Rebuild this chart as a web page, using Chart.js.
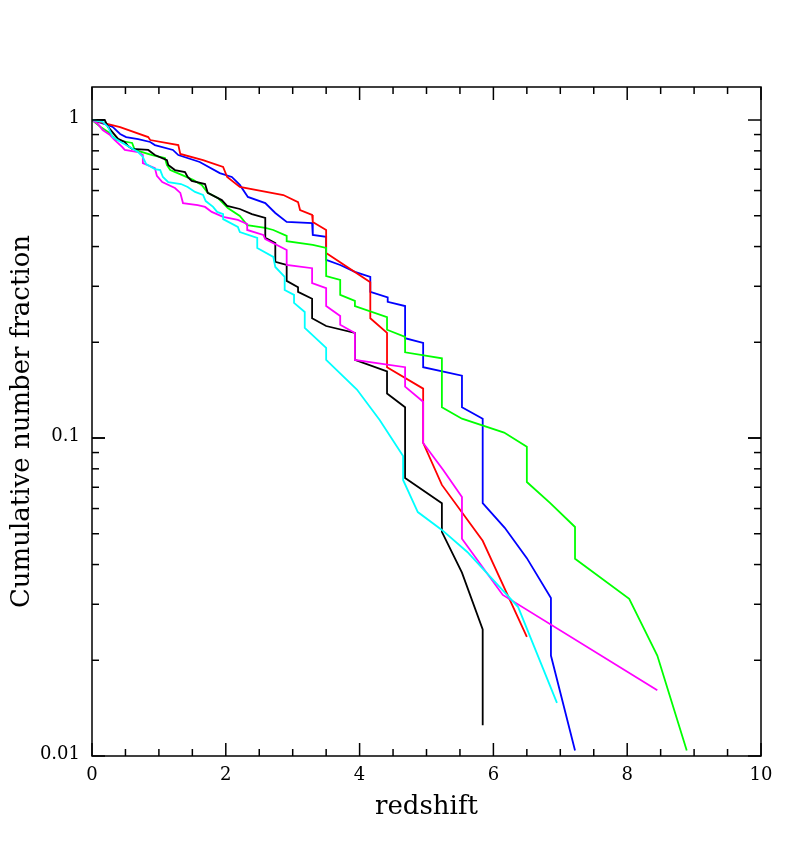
<!DOCTYPE html>
<html lang="en">
<head>
  <meta charset="UTF-8">
  <title>Cumulative number fraction vs redshift</title>
  <script src="https://cdn.jsdelivr.net/npm/chart.js"></script>
  <style>
    body { margin: 0; background: #fff; }
    #wrap { width: 788px; height: 864px; }
  </style>
</head>
<body>
  <div id="wrap"><canvas id="chart" width="788" height="864"></canvas></div>

  <script>
    // redshift (z) and cumulative fraction (f) per sample
    const zBlack = [0, 0.19, 0.24, 0.39, 0.49, 0.54, 0.60, 0.84, 0.94, 1.12, 1.14, 1.24, 1.39, 1.43, 1.49, 1.69, 1.73, 1.94, 2.02, 2.21, 2.39, 2.59, 2.59, 2.74, 2.74, 2.91, 2.91, 3.08, 3.08, 3.29, 3.29, 3.50, 3.93, 3.93, 4.41, 4.41, 4.68, 4.68, 5.23, 5.23, 5.53, 5.84, 5.84];
    const fBlack = [1.0, 1.0, 0.951, 0.872, 0.853, 0.828, 0.811, 0.805, 0.776, 0.748, 0.722, 0.696, 0.686, 0.662, 0.643, 0.629, 0.590, 0.560, 0.537, 0.525, 0.506, 0.492, 0.426, 0.410, 0.358, 0.350, 0.312, 0.298, 0.288, 0.274, 0.238, 0.225, 0.214, 0.176, 0.162, 0.138, 0.125, 0.0749, 0.0624, 0.0507, 0.0377, 0.0250, 0.0125];

    const zRed = [0, 0.42, 0.84, 0.87, 1.29, 1.32, 1.66, 1.96, 2.02, 2.21, 2.86, 3.08, 3.11, 3.29, 3.30, 3.50, 3.50, 4.16, 4.16, 4.41, 4.41, 4.95, 4.95, 5.23, 5.84, 6.50];
    const fRed = [1.0, 0.950, 0.884, 0.865, 0.834, 0.782, 0.748, 0.712, 0.662, 0.616, 0.581, 0.552, 0.521, 0.503, 0.478, 0.451, 0.382, 0.309, 0.238, 0.214, 0.167, 0.143, 0.0965, 0.0712, 0.0475, 0.0237];

    const zBlue = [0, 0.24, 0.31, 0.42, 0.51, 0.69, 0.87, 0.94, 1.21, 1.29, 1.61, 1.91, 2.09, 2.21, 2.33, 2.59, 2.74, 2.91, 3.29, 3.30, 3.50, 3.50, 3.71, 3.93, 4.16, 4.16, 4.42, 4.42, 4.68, 4.68, 4.95, 4.95, 5.53, 5.53, 5.84, 5.84, 6.17, 6.50, 6.86, 6.86, 7.22];
    const fBlue = [1.0, 0.964, 0.951, 0.904, 0.884, 0.871, 0.853, 0.834, 0.805, 0.776, 0.738, 0.681, 0.662, 0.625, 0.573, 0.548, 0.510, 0.478, 0.474, 0.435, 0.429, 0.363, 0.350, 0.333, 0.321, 0.288, 0.277, 0.268, 0.260, 0.206, 0.199, 0.167, 0.157, 0.125, 0.115, 0.0624, 0.0522, 0.0419, 0.0314, 0.0207, 0.0104];

    const zGreen = [0, 0.13, 0.24, 0.37, 0.60, 0.64, 0.90, 1.09, 1.12, 1.17, 1.35, 1.51, 1.64, 1.73, 1.88, 2.03, 2.21, 2.32, 2.59, 2.71, 2.91, 2.91, 3.30, 3.50, 3.50, 3.71, 3.71, 3.93, 3.93, 4.41, 4.41, 4.68, 4.68, 5.23, 5.23, 5.53, 6.16, 6.50, 6.50, 6.85, 7.22, 7.22, 8.03, 8.45, 8.89];
    const fGreen = [1.0, 0.951, 0.917, 0.865, 0.847, 0.805, 0.776, 0.759, 0.722, 0.696, 0.671, 0.648, 0.625, 0.590, 0.569, 0.529, 0.499, 0.467, 0.458, 0.451, 0.432, 0.416, 0.405, 0.396, 0.323, 0.314, 0.282, 0.270, 0.260, 0.240, 0.219, 0.208, 0.186, 0.178, 0.125, 0.115, 0.104, 0.0938, 0.0727, 0.0624, 0.0525, 0.0417, 0.0312, 0.0207, 0.0104];

    const zCyan = [0, 0.16, 0.24, 0.31, 0.43, 0.69, 0.76, 0.81, 0.94, 1.02, 1.06, 1.14, 1.33, 1.43, 1.54, 1.66, 1.70, 1.81, 1.87, 1.96, 1.96, 2.18, 2.21, 2.47, 2.47, 2.71, 2.74, 2.88, 2.88, 3.02, 3.02, 3.18, 3.18, 3.50, 3.50, 3.96, 4.30, 4.65, 4.65, 4.87, 5.23, 5.61, 6.37, 6.95];
    const fCyan = [1.0, 0.986, 0.951, 0.884, 0.853, 0.793, 0.765, 0.727, 0.701, 0.696, 0.662, 0.638, 0.629, 0.616, 0.594, 0.581, 0.556, 0.533, 0.514, 0.506, 0.488, 0.461, 0.444, 0.426, 0.396, 0.371, 0.345, 0.321, 0.292, 0.282, 0.266, 0.249, 0.222, 0.192, 0.176, 0.142, 0.114, 0.0877, 0.0738, 0.0585, 0.0514, 0.0438, 0.0294, 0.0147];

    const zMagenta = [0, 0.09, 0.16, 0.27, 0.34, 0.45, 0.49, 0.69, 0.76, 0.76, 0.94, 0.97, 1.05, 1.24, 1.32, 1.36, 1.58, 1.69, 1.79, 1.96, 2.18, 2.32, 2.32, 2.56, 2.59, 2.91, 2.91, 3.29, 3.29, 3.50, 3.50, 3.71, 3.71, 3.93, 3.93, 4.68, 4.68, 4.95, 4.95, 5.25, 5.53, 5.53, 6.14, 8.45];
    const fMagenta = [1.0, 0.971, 0.930, 0.897, 0.865, 0.823, 0.805, 0.793, 0.776, 0.732, 0.706, 0.667, 0.638, 0.611, 0.590, 0.548, 0.540, 0.533, 0.514, 0.496, 0.485, 0.471, 0.451, 0.435, 0.422, 0.390, 0.350, 0.342, 0.307, 0.296, 0.260, 0.242, 0.227, 0.214, 0.176, 0.167, 0.145, 0.130, 0.0965, 0.0793, 0.0652, 0.0482, 0.0321, 0.0161];

    // axis ticks
    const xTicks = [0, 2, 4, 6, 8, 10];
    const xTickLabels = ['0', '2', '4', '6', '8', '10'];
    const yTicks = [0.01, 0.1, 1];
    const yTickLabels = ['0.01', '0.1', '1'];

    const FONT = '"DejaVu Serif", "Liberation Serif", serif';

    function pts(zs, fs) {
      return zs.map((z, i) => ({ x: z, y: fs[i] }));
    }

    function series(zs, fs, color) {
      return {
        data: pts(zs, fs),
        borderColor: color,
        borderWidth: 1.8,
        pointRadius: 0,
        tension: 0,
        fill: false
      };
    }

    // box, inward ticks on all four sides, labels and titles
    const frame = {
      id: 'frame',
      afterDraw(chart) {
        const ctx = chart.ctx;
        const a = chart.chartArea;
        const x = chart.scales.x;
        const y = chart.scales.y;
        ctx.save();
        ctx.strokeStyle = '#000';
        ctx.lineWidth = 1.5;
        ctx.strokeRect(a.left, a.top, a.right - a.left, a.bottom - a.top);

        function seg(x1, y1, x2, y2) {
          ctx.beginPath();
          ctx.moveTo(x1, y1);
          ctx.lineTo(x2, y2);
          ctx.stroke();
        }

        // x: major every 2, minor every 0.5
        for (let i = 0; i <= 20; i++) {
          const px = x.getPixelForValue(i * 0.5);
          const len = i % 4 === 0 ? 13 : 7;
          seg(px, a.bottom, px, a.bottom - len);
          seg(px, a.top, px, a.top + len);
        }
        // y: decades plus 2..9 minors
        for (const d of [0.01, 0.1]) {
          for (let m = 1; m <= 10; m++) {
            const v = d * m;
            if (v > y.max) continue;
            const py = y.getPixelForValue(v);
            const len = (m === 1 || m === 10) ? 13 : 7;
            seg(a.left, py, a.left + len, py);
            seg(a.right, py, a.right - len, py);
          }
        }

        ctx.fillStyle = '#000';
        ctx.font = '18px ' + FONT;
        ctx.textAlign = 'center';
        ctx.textBaseline = 'middle';
        xTicks.forEach((v, i) => {
          ctx.fillText(xTickLabels[i], x.getPixelForValue(v), a.bottom + 19);
        });
        ctx.textAlign = 'right';
        yTicks.forEach((v, i) => {
          ctx.fillText(yTickLabels[i], a.left - 12, y.getPixelForValue(v) - 2);
        });

        ctx.font = '26px ' + FONT;
        ctx.textAlign = 'center';
        ctx.fillText('redshift', (a.left + a.right) / 2, a.bottom + 51);
        ctx.translate(22, (a.top + a.bottom) / 2);
        ctx.rotate(-Math.PI / 2);
        ctx.fillText('Cumulative number fraction', 0, 0);
        ctx.restore();
      }
    };

    new Chart(document.getElementById('chart'), {
      type: 'line',
      data: {
        datasets: [
          series(zCyan, fCyan, '#00ffff'),
          series(zMagenta, fMagenta, '#ff00ff'),
          series(zBlack, fBlack, '#000000'),
          series(zGreen, fGreen, '#00ff00'),
          series(zRed, fRed, '#ff0000'),
          series(zBlue, fBlue, '#0000ff')
        ]
      },
      options: {
        responsive: false,
        animation: false,
        layout: { padding: { left: 92, right: 27, top: 87, bottom: 108 } },
        scales: {
          x: { type: 'linear', min: 0, max: 10, display: false },
          y: { type: 'logarithmic', min: 0.01, max: 1.27, display: false }
        },
        plugins: {
          legend: { display: false },
          tooltip: { enabled: false }
        }
      },
      plugins: [frame]
    });
  </script>
</body>
</html>
